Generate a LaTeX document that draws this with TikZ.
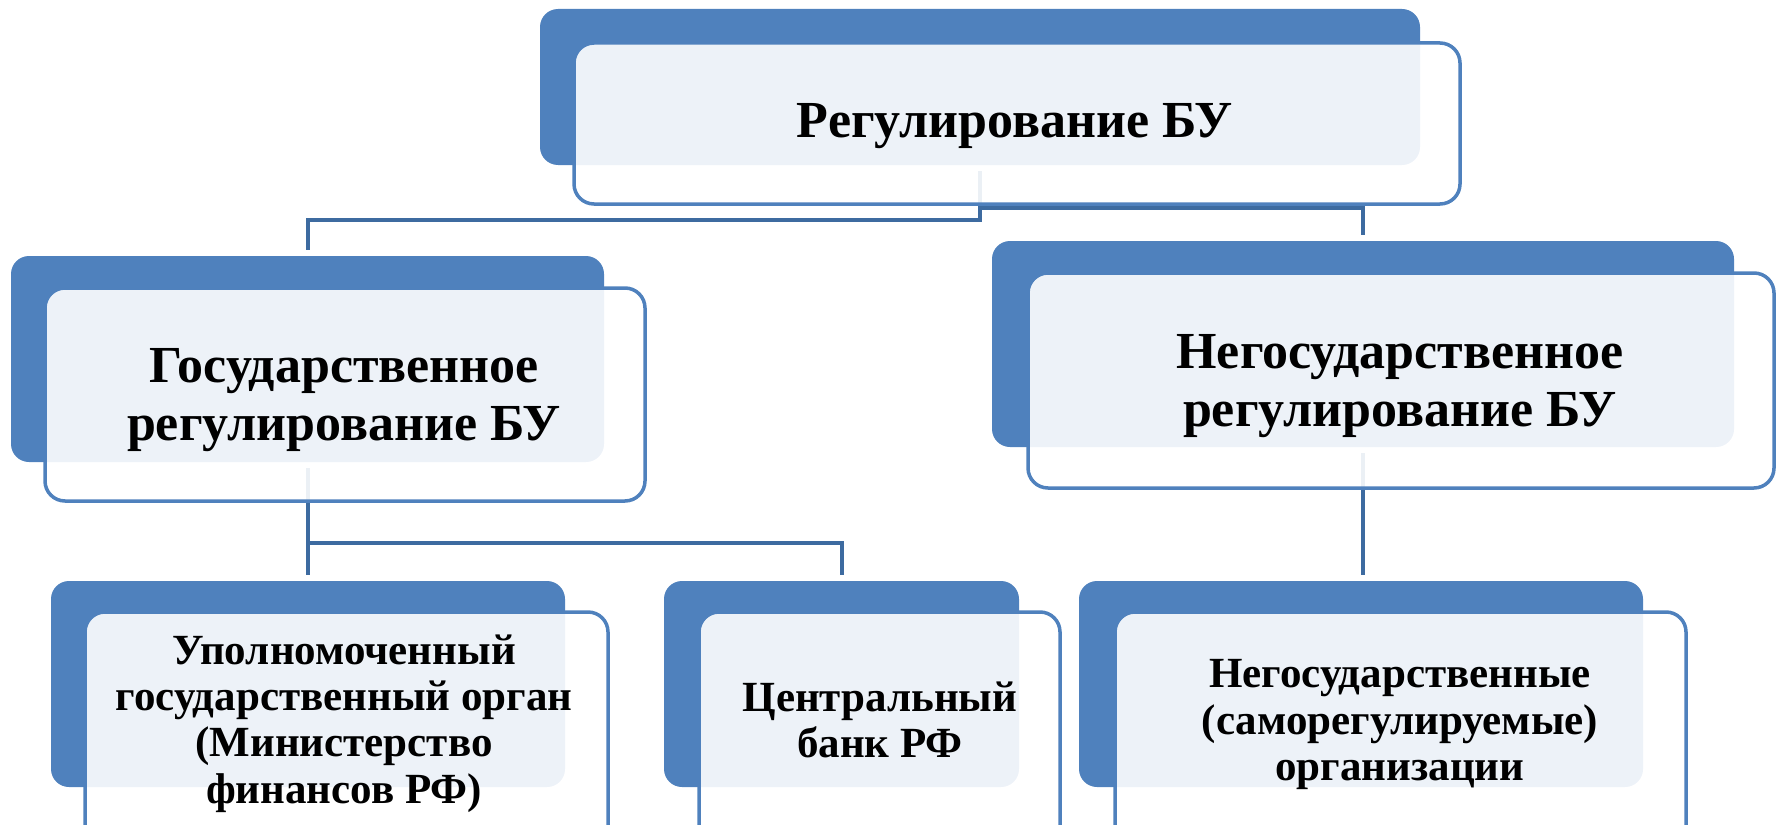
\documentclass[tikz,border=0pt]{standalone}
\usepackage{fontspec}
\setmainfont{Liberation Serif}
\definecolor{boxblue}{RGB}{79,129,189}
\definecolor{linkblue}{RGB}{61,107,160}
\begin{document}
\begin{tikzpicture}[x=0.5pt,y=-0.5pt,
  backbox/.style={rectangle, rounded corners=9pt, fill=boxblue, draw=none, inner sep=0pt, outer sep=0pt},
  frontbox/.style={rectangle, rounded corners=10pt, fill=white, fill opacity=0.9, draw=boxblue, draw opacity=1, line width=1.75pt, inner sep=0pt, outer sep=0pt},
  link/.style={draw=linkblue, line width=2pt, shorten <=3pt, shorten >=3pt},
  bigtext/.style={align=center, font=\bfseries\fontsize{26}{29}\selectfont, inner sep=0pt},
  smalltext/.style={align=center, font=\bfseries\fontsize{21.5}{23.2}\selectfont, inner sep=0pt}
]
\useasboundingbox (0,0) rectangle (1781,824);
\clip (0,0) rectangle (1781,824);

% back boxes
\node[backbox, minimum width=440pt, minimum height=78pt] (tb) at (980,87) {};
\node[backbox, minimum width=296.5pt, minimum height=103pt] (lb) at (307.5,359) {};
\node[backbox, minimum width=371pt, minimum height=103pt] (rb) at (1363,344) {};
\node[backbox, minimum width=257pt, minimum height=103pt] (blb) at (308,684) {};
\node[backbox, minimum width=177.5pt, minimum height=103pt] (bcb) at (841.5,684) {};
\node[backbox, minimum width=282pt, minimum height=103pt] (brb) at (1361,684) {};

% connectors
\draw[link] (tb.south) -- ++(0,55) -| (lb.north);
\draw[link] (tb.south) -- ++(0,43) -| (rb.north);
\draw[link] (lb.south) -- ++(0,81) -| (blb.north);
\draw[link] (lb.south) -- ++(0,81) -| (bcb.north);
\draw[link] (rb.south) -- (rb.south |- brb.north);

% front boxes
\node[frontbox, minimum width=443pt, minimum height=80.5pt] (tf) at (1017,123.5) {};
\node[frontbox, minimum width=300pt, minimum height=106.5pt] (lf) at (345,394.5) {};
\node[frontbox, minimum width=373pt, minimum height=107.5pt] (rf) at (1401,380.5) {};
\node[frontbox, minimum width=261.5pt, minimum height=119pt] (blf) at (346.5,731) {};
\node[frontbox, minimum width=180.5pt, minimum height=119pt] (bcf) at (879.5,731) {};
\node[frontbox, minimum width=285.5pt, minimum height=119pt] (brf) at (1400.5,731) {};

% texts
\node[bigtext] (tt) at (1015,126.5) {Регулирование БУ};
\node[bigtext] (lt) at (344,400.5) {Государственное\\регулирование БУ};
\node[bigtext] (rt) at (1400,386) {Негосударственное\\регулирование БУ};
\node[smalltext] (blt) at (344,723.5) {Уполномоченный\\государственный орган\\(Министерство\\финансов РФ)};
\node[smalltext] (bct) at (880,720) {Центральный\\банк РФ};
\node[smalltext] (brt) at (1400,724.5) {Негосударственные\\(саморегулируемые)\\организации};
\end{tikzpicture}
\end{document}
